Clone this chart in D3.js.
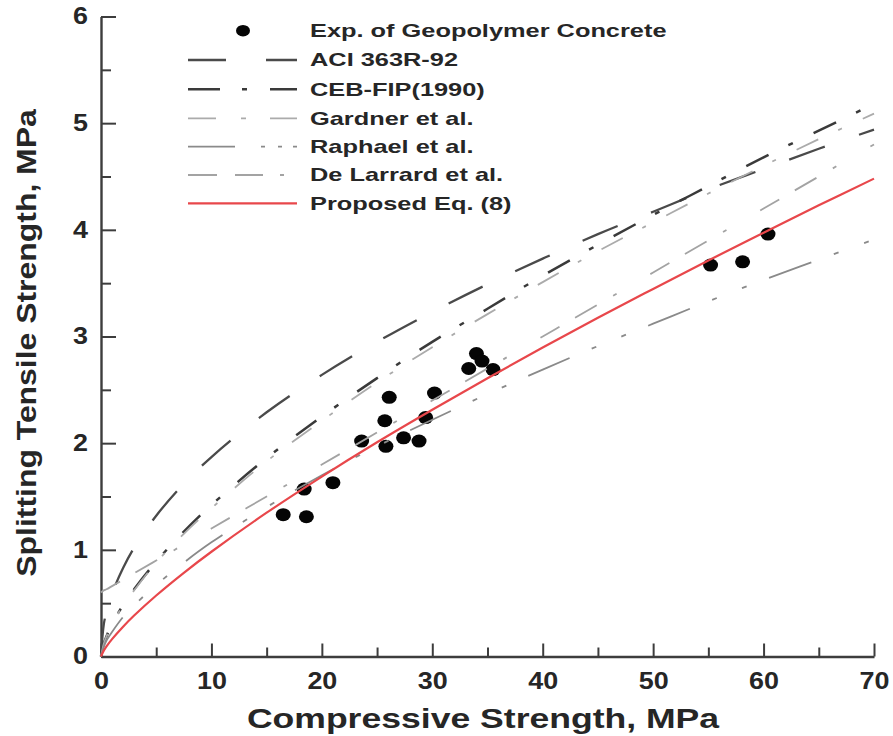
<!DOCTYPE html>
<html>
<head>
<meta charset="utf-8">
<script src="https://cdn.jsdelivr.net/npm/d3@7"></script>
<style>
  body { margin: 0; background: #fff; }
  text { font-family: "Liberation Sans", Arial, sans-serif; font-weight: bold; fill: #262626; }
</style>
</head>
<body>
<svg id="chart" width="893" height="736"></svg>
<script>
// compressive strength grid the model curves were read at (MPa)
const xGrid = [0, 0.25, 0.5, 1, 2, 3, 5, 7.5, 10, 15, 20, 25, 30, 35, 40, 45, 50, 55, 60, 65, 70];

// splitting tensile strength (MPa)
const aci363 = [0, 0.30, 0.42, 0.59, 0.83, 1.02, 1.32, 1.62, 1.87, 2.29, 2.64, 2.95, 3.23, 3.49, 3.73, 3.96, 4.17, 4.38, 4.57, 4.76, 4.94];
const cebFip = [0, 0.12, 0.19, 0.31, 0.48, 0.63, 0.89, 1.17, 1.42, 1.86, 2.25, 2.61, 2.95, 3.26, 3.57, 3.86, 4.14, 4.41, 4.68, 4.93, 5.18];
const gardner = [0, 0.12, 0.19, 0.30, 0.48, 0.62, 0.88, 1.15, 1.39, 1.83, 2.21, 2.57, 2.90, 3.21, 3.51, 3.80, 4.07, 4.34, 4.60, 4.85, 5.09];
const raphael = [0, 0.09, 0.15, 0.23, 0.37, 0.48, 0.67, 0.88, 1.07, 1.40, 1.70, 1.97, 2.22, 2.46, 2.69, 2.91, 3.12, 3.33, 3.53, 3.72, 3.91];
const deLarrard = [0.60, 0.62, 0.63, 0.66, 0.72, 0.78, 0.90, 1.05, 1.20, 1.50, 1.80, 2.10, 2.40, 2.70, 3.00, 3.30, 3.60, 3.90, 4.20, 4.50, 4.80];
const proposed = [0, 0.055, 0.095, 0.163, 0.28, 0.384, 0.572, 0.785, 0.982, 1.348, 1.687, 2.008, 2.313, 2.609, 2.897, 3.176, 3.446, 3.713, 3.972, 4.23, 4.48];

// experimental points
const expX = [16.5, 18.6, 18.4, 21.0, 23.6, 25.8, 25.7, 26.1, 27.4, 28.8, 29.4, 30.2, 33.3, 34.0, 34.5, 35.5, 55.2, 58.1, 60.4];
const expY = [1.33, 1.31, 1.57, 1.63, 2.02, 1.97, 2.21, 2.43, 2.05, 2.02, 2.24, 2.47, 2.70, 2.84, 2.77, 2.69, 3.67, 3.70, 3.96];

const xMajor = [0, 10, 20, 30, 40, 50, 60, 70];
const xMinor = [5, 15, 25, 35, 45, 55, 65];
const yMajor = [0, 1, 2, 3, 4, 5, 6];
const yMinor = [0.5, 1.5, 2.5, 3.5, 4.5, 5.5];

const seriesNames = ["ACI 363R-92", "CEB-FIP(1990)", "Gardner et al.", "Raphael et al.", "De Larrard et al.", "Proposed Eq. (8)"];
const seriesValues = [aci363, cebFip, gardner, raphael, deLarrard, proposed];

// line look per series: colour, width, dash in plot, dash in legend
const seriesStyle = [
  { color: "#4a4a4a", width: 2.3, dash: "38,36", legendDash: "38,40" },
  { color: "#3a3a3a", width: 2.5, dash: "25,22,5,23", legendDash: "32,22,5,23" },
  { color: "#ababab", width: 1.8, dash: "24,22,4,23", legendDash: "28,25,5,24" },
  { color: "#8a8a8a", width: 1.8, dash: "45,24,5,27,5,24", legendDash: "47,26,4,13,4,11" },
  { color: "#a3a3a3", width: 1.8, dash: "22,18,25,19,4,39", legendDash: "29,18,28,17,4,20" },
  { color: "#e8474b", width: 2.2, dash: null, legendDash: null }
];

const svg = d3.select("#chart");
svg.append("rect").attr("width", 893).attr("height", 736).attr("fill", "#fff");

const x = d3.scaleLinear().domain([0, 70]).range([101, 874]);
const y = d3.scaleLinear().domain([0, 6]).range([656.5, 16.5]);

const labelStretch = 1.17;

// minor ticks
svg.append("g")
  .attr("transform", `translate(0,${y(0)})`)
  .call(d3.axisBottom(x).tickValues(xMinor).tickSize(-9).tickSizeOuter(0).tickFormat(""))
  .call(g => g.select(".domain").remove());
svg.append("g")
  .attr("transform", `translate(${x(0)},0)`)
  .call(d3.axisLeft(y).tickValues(yMinor).tickSize(-10).tickSizeOuter(0).tickFormat(""))
  .call(g => g.select(".domain").remove());

// major ticks + labels
const xAxis = svg.append("g")
  .attr("transform", `translate(0,${y(0)})`)
  .call(d3.axisBottom(x).tickValues(xMajor).tickSize(-13).tickSizeOuter(0).tickPadding(16).tickFormat(d3.format("d")));
xAxis.selectAll("text")
  .attr("transform", `scale(${labelStretch},1)`)
  .style("font-size", "23px");

const yAxis = svg.append("g")
  .attr("transform", `translate(${x(0)},0)`)
  .call(d3.axisLeft(y).tickValues(yMajor).tickSize(-15).tickSizeOuter(0).tickPadding(13).tickFormat(d3.format("d")));
yAxis.selectAll("text")
  .attr("x", -13 / labelStretch)
  .attr("transform", `scale(${labelStretch},1)`)
  .style("font-size", "23px");

svg.selectAll(".tick line").attr("stroke", "#3d3d3d").attr("stroke-width", 2);
svg.selectAll(".domain").attr("stroke", "#3d3d3d").attr("stroke-width", 2.4);
svg.selectAll(".tick text").attr("fill", "#262626").style("font-family", "\"Liberation Sans\", Arial, sans-serif");

// axis titles
svg.append("text")
  .attr("transform", "translate(483,728) scale(1.27,1)")
  .attr("text-anchor", "middle")
  .style("font-size", "28px")
  .text("Compressive Strength, MPa");
svg.append("text")
  .attr("transform", "translate(36,343) rotate(-90) scale(1.14,1)")
  .attr("text-anchor", "middle")
  .style("font-size", "28px")
  .text("Splitting Tensile Strength, MPa");

// experimental points (under the lines)
svg.append("g").selectAll("ellipse")
  .data(expX.map((v, i) => ({ fc: v, fsp: expY[i] })))
  .enter().append("ellipse")
  .attr("cx", d => x(d.fc))
  .attr("cy", d => y(d.fsp))
  .attr("rx", 7.5)
  .attr("ry", 6.5)
  .attr("fill", "#050505");

// model curves
const line = d3.line()
  .x(d => x(d[0]))
  .y(d => y(d[1]))
  .curve(d3.curveCatmullRom.alpha(0.5));

seriesValues.forEach((vals, i) => {
  const st = seriesStyle[i];
  svg.append("path")
    .datum(xGrid.map((v, j) => [v, vals[j]]))
    .attr("d", line)
    .attr("fill", "none")
    .attr("stroke", st.color)
    .attr("stroke-width", st.width)
    .attr("stroke-dasharray", st.dash);
});

// legend
const legendRowY = [30.7, 60, 89.3, 118.3, 146.7, 175, 203.3];
const legend = svg.append("g");
legend.append("ellipse")
  .attr("cx", 243).attr("cy", legendRowY[0])
  .attr("rx", 7).attr("ry", 5.8)
  .attr("fill", "#050505");

seriesNames.forEach((name, i) => {
  const st = seriesStyle[i];
  legend.append("line")
    .attr("x1", 188).attr("x2", 297)
    .attr("y1", legendRowY[i + 1]).attr("y2", legendRowY[i + 1])
    .attr("stroke", st.color)
    .attr("stroke-width", st.width)
    .attr("stroke-dasharray", st.legendDash);
});

["Exp. of Geopolymer Concrete"].concat(seriesNames).forEach((name, i) => {
  legend.append("text")
    .attr("transform", `translate(310,${legendRowY[i] + 6.3}) scale(1.45,1)`)
    .style("font-size", "17.5px")
    .text(name);
});
</script>
</body>
</html>
